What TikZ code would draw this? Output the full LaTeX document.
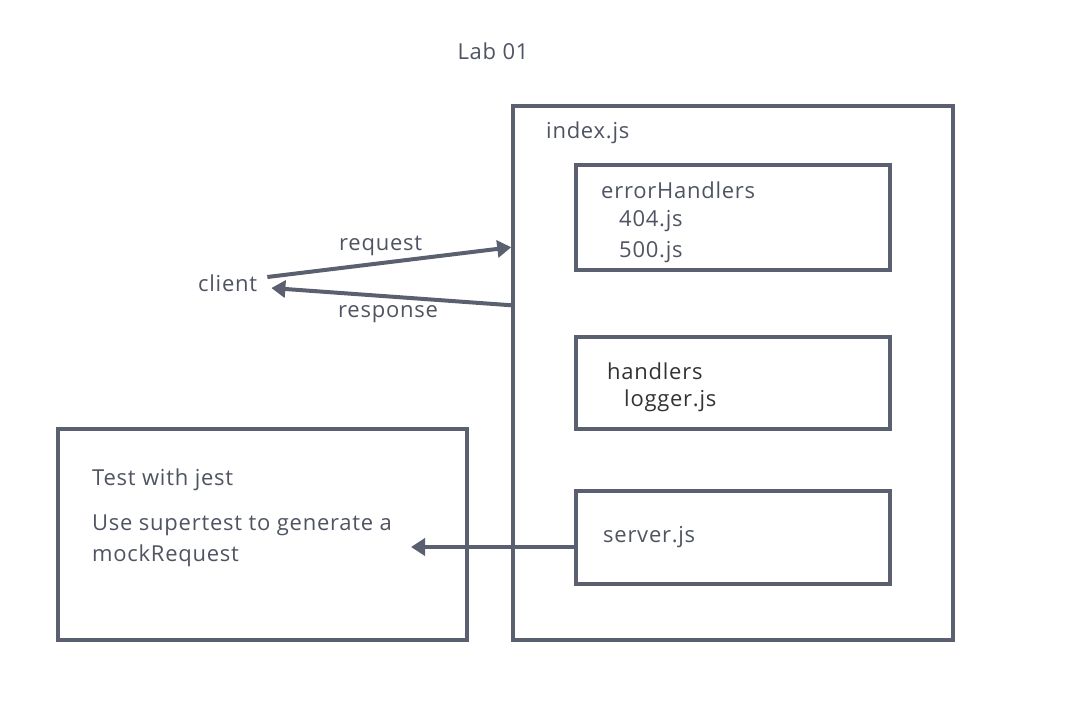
\documentclass[tikz,border=0pt]{standalone}
\usepackage{fontspec}
\setmainfont[LetterSpace=3.4]{Open Sans}
\usepackage{tikz}
\usetikzlibrary{calc,arrows.meta}

\definecolor{linegray}{HTML}{5B6070}
\definecolor{textgray}{HTML}{4F5462}

\begin{document}
\begin{tikzpicture}[x=1pt, y=-1pt,
    box/.style={draw=linegray, line width=3.5pt, rectangle, inner sep=0pt},
    label/.style={anchor=west, inner sep=0pt, text=textgray, font=\fontsize{22}{26}\selectfont},
    arr/.style={draw=linegray, line width=4pt, -{Triangle[length=14pt, width=17pt]}}]
            \useasboundingbox (0,0) rectangle (1075,722);
            % boxes
            \node[box, minimum width=440, minimum height=534] (index) at (733,373) {};
            \node[box, minimum width=314, minimum height=105] (errbox) at (733,217.5) {};
            \node[box, minimum width=314, minimum height=92] (handbox) at (733,383) {};
            \node[box, minimum width=314, minimum height=93] (serverbox) at (733,537.5) {};
            \node[box, minimum width=409, minimum height=211] (testbox) at (262.5,534.5) {};

            % texts
            \node[label, anchor=center] (title) at (493,51) {Lab 01};
            \node[label] (indexjs) at (546,133) {index.js};
            \node[label] (errname) at (601,190) {errorHandlers};
            \foreach \f/\y in {404/221, 500/252} {
                \node[label] (err\f) at (619,\y) {\f.js};
            }
            \node[label, text=black!80] (handname) at (607,371) {handlers};
            \node[label, text=black!80] (logger) at (624,401) {logger.js};
            \node[label] (serverjs) at (603,537) {server.js};
            \node[label] (test) at (92,480) {Test with jest};
            \node[label] (super) at (92,525) {Use supertest to generate a};
            \node[label] (mock) at (92,556) {mockRequest};
            \node[label] (client) at (198,283) {client};
            \node[label] (reqlabel) at (339,246) {request};
            \node[label] (reslabel) at (338,314) {response};

            % connectors
            \coordinate (mockend) at (411,547);
            \draw [arr] ([xshift=10pt, yshift=6pt]client.east) -- ($(index.north west)!0.266!(index.south west)$);
            \draw [arr] ($(index.north west)!0.374!(index.south west)$) -- ([xshift=14pt, yshift=-5pt]client.east);
            \draw [arr] (serverbox.west |- mockend) -- (mockend);

        \end{tikzpicture}
\end{document}
